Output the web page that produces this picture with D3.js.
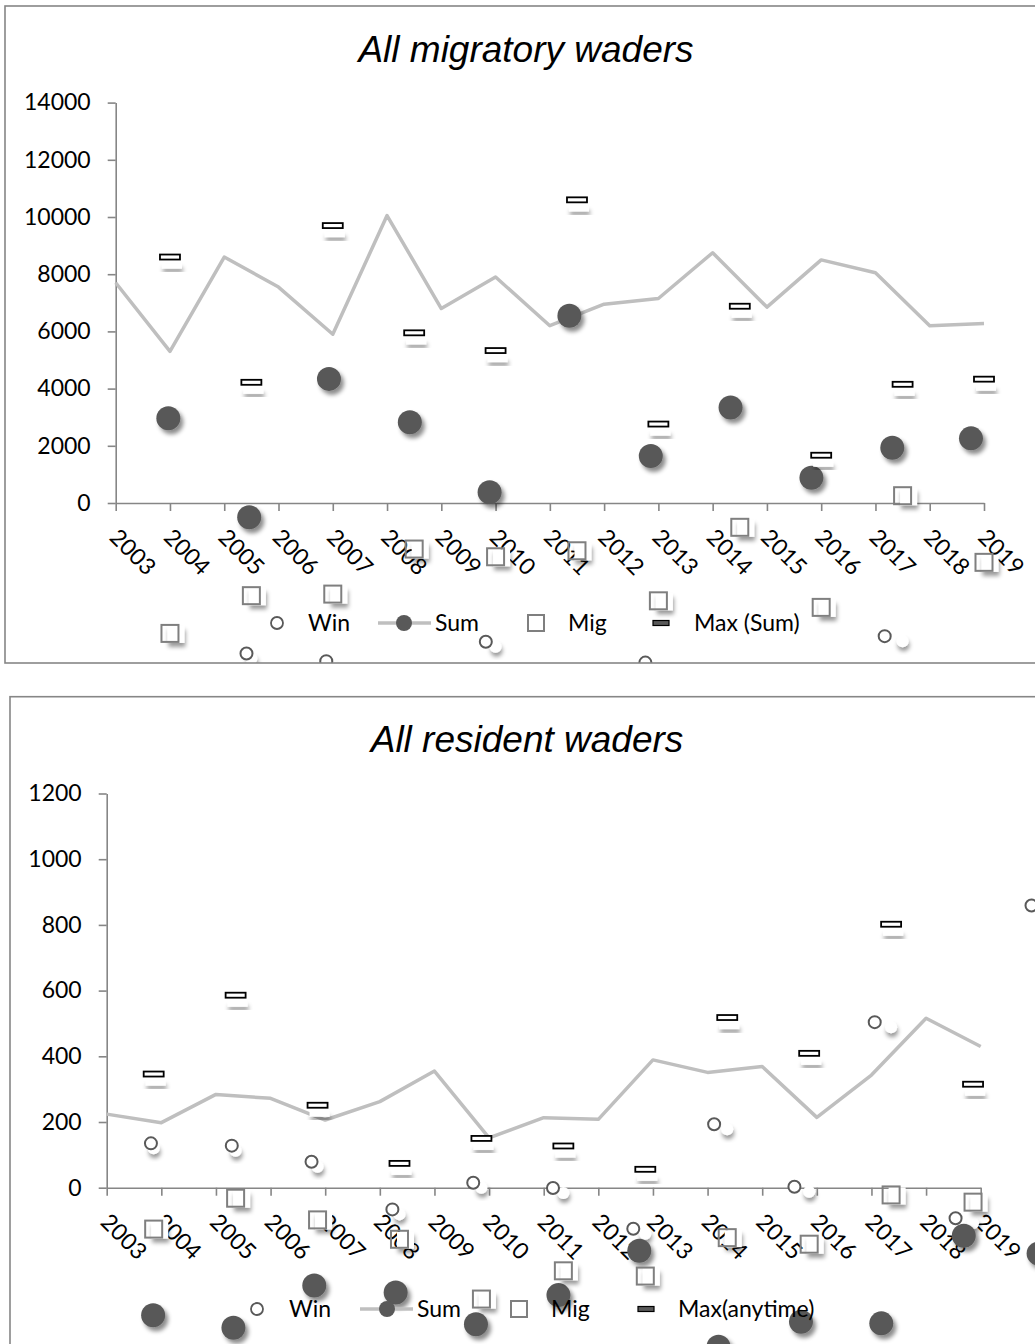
<!DOCTYPE html>
<html><head><meta charset="utf-8">
<script src="https://cdn.jsdelivr.net/npm/d3@7"></script>
<style>
body{margin:0;background:#fff}
svg text{font-family:Lato,"Open Sans",sans-serif;fill:#000}
</style>
</head><body>
<svg id="c" width="1035" height="1344"></svg>
<script>
// ---------- categories ----------
const years = [2003,2004,2005,2006,2007,2008,2009,2010,2011,2012,2013,2014,2015,2016,2017,2018,2019];

// ---------- chart 1 : All migratory waders ----------
const mig_title = "All migratory waders";
const mig_yTicks = [0,2000,4000,6000,8000,10000,12000,14000];
const mig_legend = ["Win","Sum","Mig","Max (Sum)"];
// grey line (one value per year)
const mig_sumLine = [7700,5300,8600,7550,5900,10050,6800,7900,6200,6950,7150,8750,6850,8500,8050,6200,6280];
// marker series (x positions in year units as they appear on the picture)
const mig_winX = [2003.94,2005.41,2006.88,2008.35,2009.82,2011.29,2012.76,2014.23,2015.70,2017.17,2018.64,2020.11];
const mig_win  = [-6300,-5260,-5530,-6600,-4850,-6100,-5580,-6900,-6400,-4655,-6200,-6000];
const mig_sumX = [2003.97,2005.46,2006.93,2008.42,2009.89,2011.36,2012.86,2014.33,2015.82,2017.31,2018.76,2020.24];
const mig_sum  = [2960,-500,4340,2820,375,6550,1645,3340,885,1935,2260,3000];
const mig_gridX = [2004,2005.5,2007,2008.5,2010,2011.5,2013,2014.5,2016,2017.5,2019,2020.5];
const mig_mig  = [-4560,-3240,-3185,-1610,-1880,-1670,-3420,-850,-3650,255,-2075];
const mig_max  = [8600,4220,9700,5950,5330,10600,2760,6880,1670,4150,4330];

// ---------- chart 2 : All resident waders ----------
const res_title = "All resident waders";
const res_yTicks = [0,200,400,600,800,1000,1200];
const res_legend = ["Win","Sum","Mig","Max(anytime)"];
const res_sumLine = [224,198,284,272,206,262,355,152,213,208,389,351,369,214,343,516,430];
const res_winX = [2003.81,2005.29,2006.75,2008.23,2009.71,2011.17,2012.64,2014.12,2015.59,2017.06,2018.54,2019.93];
const res_win  = [135,128,79,-66,15,-1,-125,193,3,504,-93,859];
const res_sumX = [2003.85,2005.32,2006.80,2008.29,2009.76,2011.27,2012.75,2014.20,2015.71,2017.18,2018.69,2020.06];
const res_sum  = [-388,-426,-298,-319,-416,-327,-192,-484,-408,-413,-146,-200];
const res_gridX = [2003.86,2005.36,2006.86,2008.36,2009.86,2011.36,2012.86,2014.36,2015.86,2017.36,2018.86,2020.36];
const res_mig  = [-126,-32,-98,-157,-339,-253,-269,-152,-172,-22,-44];
const res_max  = [346,586,251,74,150,127,56,518,409,802,315];

// ---------- layout ----------
const layouts = [
  {frame:{x:5,y:6,w:1045,h:657}, plot:{x0:115.7,x1:984,y0:503,y1:102.6}, yMax:14000,
   titleX:526, titleY:62, legendY:623,
   legendPos:[{m:277,t:308},{m0:378,m1:431,m:404,t:435},{m:536,t:568},{m:661,t:694}]},
  {frame:{x:10,y:696.7,w:1040,h:700}, plot:{x0:106.7,x1:980.7,y0:1187.7,y1:793.5}, yMax:1200,
   titleX:527, titleY:751.5, legendY:1309,
   legendPos:[{m:257,t:289},{m0:360,m1:413,m:387,t:417},{m:519,t:551},{m:646,t:678}]}
];

const charts = [
  {title:mig_title, yTicks:mig_yTicks, legend:mig_legend, line:mig_sumLine,
   winX:mig_winX, win:mig_win, sumX:mig_sumX, sum:mig_sum, gridX:mig_gridX, mig:mig_mig, max:mig_max},
  {title:res_title, yTicks:res_yTicks, legend:res_legend, line:res_sumLine,
   winX:res_winX, win:res_win, sumX:res_sumX, sum:res_sum, gridX:res_gridX, mig:res_mig, max:res_max}
];

const svg = d3.select("#c");
const defs = svg.append("defs");
function shadow(id, dx, dy, sd, op){
  const f = defs.append("filter").attr("id",id).attr("x","-60%").attr("y","-60%").attr("width","220%").attr("height","220%");
  f.append("feDropShadow").attr("dx",dx).attr("dy",dy).attr("stdDeviation",sd)
    .attr("flood-color","#000").attr("flood-opacity",op);
}
shadow("shDark", 3, 4, 2.2, 0.45);
shadow("shSoft", 1, 4, 2, 0.4);

const AX = "#868686", DARK = "#595959", LINE = "#bfbfbf", SQ = "#7f7f7f";

function drawChart(c, L, idx){
  const g = svg.append("g");
  const clipId = "clip"+idx;
  defs.append("clipPath").attr("id",clipId).append("rect")
    .attr("x",L.frame.x).attr("y",L.frame.y).attr("width",L.frame.w).attr("height",L.frame.h);
  const x = d3.scaleLinear().domain([years[0], years[years.length-1]]).range([L.plot.x0, L.plot.x1]);
  const y = d3.scaleLinear().domain([0, L.yMax]).range([L.plot.y0, L.plot.y1]);
  const body = g.append("g").attr("clip-path",`url(#${clipId})`);

  // title
  g.append("text").attr("x",L.titleX).attr("y",L.titleY).attr("text-anchor","middle")
    .style("font-family","'Liberation Sans',Arial,sans-serif").style("font-style","italic")
    .style("font-size","37px").text(c.title);

  // y axis
  const ya = body.append("g").attr("transform",`translate(${L.plot.x0},0)`)
    .call(d3.axisLeft(y).tickValues(c.yTicks).tickSize(8).tickSizeOuter(0).tickPadding(17).tickFormat(d3.format("d")));
  // x axis
  const xa = body.append("g").attr("transform",`translate(0,${L.plot.y0})`)
    .call(d3.axisBottom(x).tickValues(years).tickSize(8).tickSizeOuter(0).tickFormat(d=>String(d)));
  xa.selectAll(".tick text").attr("x",0).attr("y",0).attr("dy","0.36em").attr("text-anchor","start")
    .attr("transform","translate(-2,30) rotate(45)");
  [ya,xa].forEach(a=>{
    a.select(".domain").attr("stroke",AX).attr("stroke-width",1.6);
    a.selectAll(".tick line").attr("stroke",AX).attr("stroke-width",1.6);
    a.selectAll(".tick text").style("font-size","23px").style("font-family","Lato,'Open Sans',sans-serif").attr("fill","#000");
  });

  // grey line
  body.append("path").datum(c.line)
    .attr("d", d3.line().x((d,i)=>x(years[i])).y(d=>y(d)))
    .attr("fill","none").attr("stroke",LINE).attr("stroke-width",3.5).attr("stroke-linejoin","round");

  // Win markers: open circle + white ghost dot
  body.selectAll(".winGhost").data(c.win).join("circle").attr("class","winGhost")
    .attr("cx",(d,i)=>x(c.gridX[i])).attr("cy",d=>y(d)+5).attr("r",6)
    .attr("fill","#fff").attr("filter","url(#shSoft)");
  body.selectAll(".win").data(c.win).join("circle").attr("class","win")
    .attr("cx",(d,i)=>x(c.winX[i])).attr("cy",d=>y(d)).attr("r",6)
    .attr("fill","#fff").attr("stroke",DARK).attr("stroke-width",2);

  // Sum markers
  body.selectAll(".sum").data(c.sum).join("circle").attr("class","sum")
    .attr("cx",(d,i)=>x(c.sumX[i])).attr("cy",d=>y(d)).attr("r",12)
    .attr("fill",DARK).attr("filter","url(#shDark)");

  // Mig markers
  const sq = 17;
  body.selectAll(".migGhost").data(c.mig).join("rect").attr("class","migGhost")
    .attr("x",(d,i)=>x(c.gridX[i])-sq/2+6).attr("y",d=>y(d)-sq/2+1).attr("width",sq).attr("height",sq)
    .attr("fill","#fff").attr("filter","url(#shSoft)");
  body.selectAll(".mig").data(c.mig).join("rect").attr("class","mig")
    .attr("x",(d,i)=>x(c.gridX[i])-sq/2).attr("y",d=>y(d)-sq/2).attr("width",sq).attr("height",sq)
    .attr("fill","none").attr("stroke",SQ).attr("stroke-width",2);

  // Max markers
  body.selectAll(".maxGhost").data(c.max).join("rect").attr("class","maxGhost")
    .attr("x",(d,i)=>x(c.gridX[i])-10+2).attr("y",d=>y(d)-2.5+9).attr("width",20).attr("height",5)
    .attr("fill","#fff").attr("filter","url(#shSoft)");
  body.selectAll(".max").data(c.max).join("rect").attr("class","max")
    .attr("x",(d,i)=>x(c.gridX[i])-10).attr("y",d=>y(d)-2.5).attr("width",20).attr("height",5)
    .attr("fill","#fff").attr("stroke","#000").attr("stroke-width",1.8);

  // legend
  const ly = L.legendY, P = L.legendPos;
  const lg = g.append("g");
  lg.append("circle").attr("cx",P[0].m).attr("cy",ly).attr("r",6).attr("fill","#fff").attr("stroke",DARK).attr("stroke-width",1.8);
  lg.append("line").attr("x1",P[1].m0).attr("x2",P[1].m1).attr("y1",ly).attr("y2",ly).attr("stroke",LINE).attr("stroke-width",3.5);
  lg.append("circle").attr("cx",P[1].m).attr("cy",ly).attr("r",8).attr("fill",DARK);
  lg.append("rect").attr("x",P[2].m-8).attr("y",ly-8).attr("width",16).attr("height",16).attr("fill","#fff").attr("stroke",SQ).attr("stroke-width",2);
  lg.append("rect").attr("x",P[3].m-8).attr("y",ly-2.5).attr("width",16).attr("height",5).attr("fill",DARK).attr("stroke","#000").attr("stroke-width",1.2);
  lg.selectAll(".lt").data(c.legend).join("text").attr("class","lt")
    .attr("x",(d,i)=>P[i].t).attr("y",ly).attr("dy","0.36em").style("font-size","23px").text(d=>d);

  // frame
  g.append("rect").attr("x",L.frame.x).attr("y",L.frame.y).attr("width",L.frame.w).attr("height",L.frame.h)
    .attr("fill","none").attr("stroke",AX).attr("stroke-width",1.6);
}

charts.forEach((c,i)=>drawChart(c, layouts[i], i));
</script>
</body></html>
